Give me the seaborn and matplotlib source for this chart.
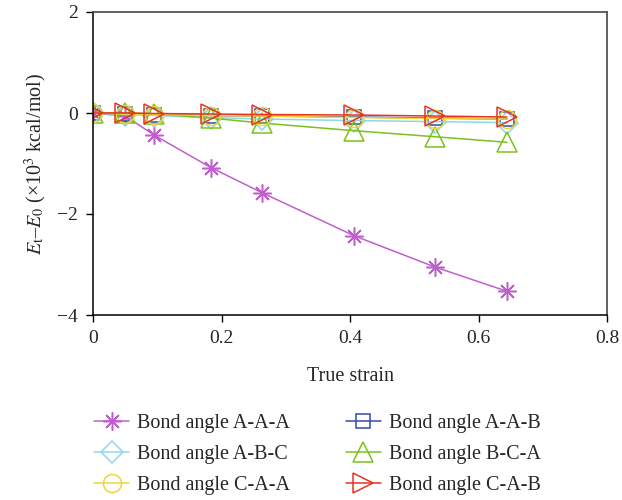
import pandas as pd
import seaborn as sns
import matplotlib.pyplot as plt

# strain values
strain = [0, 0.05, 0.095, 0.183, 0.263, 0.406, 0.532, 0.644]

# energy change (x10^3 kcal/mol)
aaa = [0, -0.06, -0.44, -1.08, -1.58, -2.43, -3.05, -3.53]
aab = [0, -0.02, -0.03, -0.05, -0.06, -0.08, -0.10, -0.12]
abc = [0, -0.03, -0.05, -0.09, -0.12, -0.15, -0.17, -0.19]
bca = [0, 0.0, -0.02, -0.10, -0.20, -0.35, -0.47, -0.58]
caa = [0, -0.02, -0.03, -0.05, -0.06, -0.09, -0.11, -0.12]
cab = [0, 0.0, -0.01, -0.02, -0.03, -0.04, -0.06, -0.08]

labels = ["Bond angle A-A-A", "Bond angle A-A-B", "Bond angle A-B-C",
          "Bond angle B-C-A", "Bond angle C-A-A", "Bond angle C-A-B"]
series = [aaa, aab, abc, bca, caa, cab]
colors = ["#C05FCC", "#2F4DA6", "#8ED8E6", "#7CC11C", "#F0D43A", "#E8331F"]
markers = [(8, 2, 0), "s", "D", "^", "o", ">"]
msizes = [13, 10, 11, 15, 13, 14]

sns.set_style("white")
plt.rcParams["font.family"] = ["Liberation Serif", "DejaVu Serif"]
plt.rcParams["mathtext.fontset"] = "stix"

fig, ax = plt.subplots(figsize=(6.22, 5.0), dpi=100)
fig.subplots_adjust(left=0.150, right=0.976, top=0.976, bottom=0.37)

handles = []
for lab, ys, c, m, ms in zip(labels, series, colors, markers, msizes):
    df = pd.DataFrame({"strain": strain, "energy": ys})
    sns.lineplot(data=df, x="strain", y="energy", ax=ax, color=c, marker=m,
                 markersize=ms, markerfacecolor="none", markeredgecolor=c,
                 markeredgewidth=1.1, linewidth=1.1, label=lab, legend=False)
    handles.append(ax.lines[-1])

ax.set_xlim(0, 0.8)
ax.set_ylim(-4, 2)
ax.set_xticks([0, 0.2, 0.4, 0.6, 0.8])
ax.set_xticklabels(["0", "0.2", "0.4", "0.6", "0.8"])
ax.set_yticks([-4, -2, 0, 2])
ax.set_yticklabels(["\u22124", "\u22122", "0", "2"])
ax.tick_params(axis="both", labelsize=14, direction="out", length=5,
               width=1, color="black", left=True, bottom=True, pad=6)
ax.set_xlabel("True strain", fontsize=14.5, labelpad=14)
ax.set_ylabel("$E_{\\mathrm{t}}$\u2013$E_0$ (\u00d710$^3$ kcal/mol)",
              fontsize=14.5, labelpad=6)
for side in ["left", "bottom"]:
    ax.spines[side].set_color("black")
    ax.spines[side].set_linewidth(1.1)
for side in ["right", "top"]:
    ax.spines[side].set_color("#555555")
    ax.spines[side].set_linewidth(1.3)

order = [0, 2, 4, 1, 3, 5]
fig.legend([handles[i] for i in order], [labels[i] for i in order],
           loc="lower left", bbox_to_anchor=(0.122, -0.026), ncol=2,
           frameon=False, fontsize=14.5, handlelength=1.75, handletextpad=0.4,
           columnspacing=2.75, labelspacing=0.58)

plt.savefig("out.png", dpi=100)
